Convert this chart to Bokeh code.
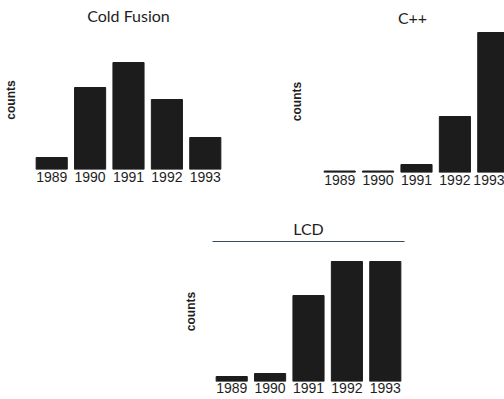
from bokeh.plotting import figure
from bokeh.models import Range1d, FixedTicker, LinearAxis, Spacer
from bokeh.layouts import column, row
from bokeh.embed import file_html
from bokeh.resources import INLINE

years = [1989, 1990, 1991, 1992, 1993]
year_labels = ["1989", "1990", "1991", "1992", "1993"]
cold_fusion = [12, 82, 107, 70, 32]
cpp = [1.5, 1.5, 8, 56, 140]
lcd = [5, 8, 86, 120, 120]

BG = "#ffffff"
BAR = "#1c1c1c"
TXT = "#1e1e1e"


def make(title, values, fw, fh, x_end, y_end, left, right, top, bottom,
         title_standoff=2, top_axis=False, label_standoff=10, tick_standoff=2):
    p = figure(frame_width=fw, frame_height=fh, output_backend="svg", toolbar_location=None,
               x_range=Range1d(1988.5, x_end), y_range=Range1d(0, y_end),
               min_border_left=left, min_border_right=right,
               min_border_top=top, min_border_bottom=bottom)
    p.title.text = title
    p.title.align = "center"
    p.title.vertical_align = "middle"
    p.title.text_font = "Lato"
    p.title.text_font_size = "16px"
    p.title.text_font_style = "normal"
    p.title.text_color = TXT
    p.title.standoff = title_standoff
    p.vbar(x=years, top=values, width=0.81, fill_color=BAR, line_color=BAR)
    p.xgrid.visible = False
    p.ygrid.visible = False
    p.outline_line_color = None
    p.background_fill_color = BG
    p.border_fill_color = BG
    xa = p.xaxis[0]
    xa.ticker = FixedTicker(ticks=years)
    xa.major_label_overrides = {y: l for y, l in zip(years, year_labels)}
    xa.axis_line_color = None
    xa.major_tick_out = 0
    xa.major_tick_in = 0
    xa.minor_tick_out = 0
    xa.minor_tick_in = 0
    xa.major_label_standoff = tick_standoff
    xa.major_label_text_font = "Liberation Sans"
    xa.major_label_text_font_size = "14px"
    xa.major_label_text_color = TXT
    ya = p.yaxis[0]
    ya.ticker = FixedTicker(ticks=[])
    ya.axis_label = "counts"
    ya.axis_label_text_font = "Liberation Sans"
    ya.axis_label_text_font_size = "12px"
    ya.axis_label_text_font_style = "bold"
    ya.axis_label_text_color = TXT
    ya.axis_label_standoff = label_standoff
    ya.major_label_standoff = 0
    ya.major_tick_out = 0
    ya.major_tick_in = 0
    ya.minor_tick_out = 0
    ya.minor_tick_in = 0
    ya.axis_line_color = None
    if top_axis:
        ax = LinearAxis(ticker=FixedTicker(ticks=[]),
                        major_tick_out=0, major_tick_in=0, minor_tick_out=0, minor_tick_in=0,
                        major_label_standoff=0,
                        axis_line_color="#3a4a5a", axis_line_width=1.2)
        p.add_layout(ax, "above")
    return p


p1 = make("Cold Fusion", cold_fusion, 192, 139, 1993.5, 139,
          left=32, right=16, top=30, bottom=27, label_standoff=15, title_standoff=8.5,
          tick_standoff=2)
p2 = make("C++", cpp, 184, 142, 1988.5 + 184 / 38.4, 142,
          left=80, right=0, top=26, bottom=28, label_standoff=17, title_standoff=4.5,
          tick_standoff=2)
p3 = make("LCD", lcd, 192, 140, 1993.5, 140,
          left=62, right=12, top=45, bottom=16, top_axis=True, label_standoff=15,
          title_standoff=4.5, tick_standoff=1)

layout = column(row(p1, p2), row(Spacer(width=150, height=203), p3))

open("out.html", "w").write(file_html(layout, INLINE))
